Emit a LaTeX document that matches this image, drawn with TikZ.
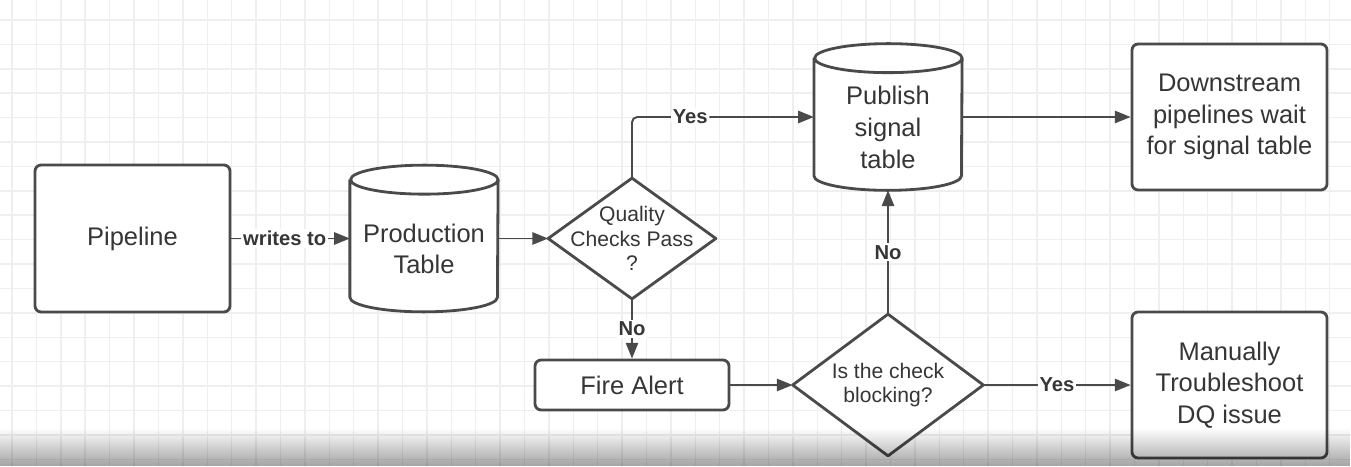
\documentclass[tikz,border=0pt]{standalone}
\usepackage{fontspec}
\setmainfont{Liberation Sans}
\usepackage{xcolor}
\usepackage{tikz}
\usetikzlibrary{arrows.meta,fadings}
\definecolor{DQLine}{HTML}{4A4A4A}
\definecolor{DQText}{HTML}{363636}
\definecolor{DQGrid}{HTML}{EFEFEF}
\pgfdeclarelayer{paper}
\pgfdeclarelayer{behind}
\pgfsetlayers{paper,behind,main}
\tikzfading[name=screenfade, top color=transparent!100, bottom color=transparent!0]
\newcommand{\lidgap}{\rule{0pt}{0.78cm}}
\tikzset{
  shapeline/.style={draw=DQLine,fill=white,line width=1.6pt,line join=round},
  mainfont/.style={font=\fontsize{14.5}{18}\selectfont,text=DQText,align=center},
  procbox/.style={shapeline,mainfont,rounded corners=3.5pt,inner sep=0pt},
  tablebox/.style={mainfont,inner sep=0pt,minimum width=2.95cm,minimum height=2.92cm},
  checkbox/.style={font=\fontsize{12}{14}\selectfont,text=DQText,align=center,inner sep=0pt},
  flow/.style={draw=DQLine,line width=1.1pt,-{Triangle[length=9pt,width=7pt]}},
  edgelabel/.style={font=\fontsize{11.5}{13}\selectfont\bfseries,text=DQText,fill=white,inner sep=1pt}
}

\begin{document}
\begin{tikzpicture}[x=1cm,y=1cm]
\useasboundingbox (0,0) rectangle (27.02,9.32);
\begin{pgfonlayer}{paper}
\fill[white] (0,0) rectangle (27.02,9.32);
\foreach \i in {0,...,55} \draw[DQGrid,line width=0.8pt] (0.24+\i*0.488,0) -- (0.24+\i*0.488,9.32);
\foreach \j in {0,...,18} \draw[DQGrid,line width=0.8pt] (0,8.92-\j*0.488) -- (27.02,8.92-\j*0.488);
\end{pgfonlayer}

\node[procbox,minimum width=3.90cm,minimum height=2.94cm] (pipeline) at (2.65,4.55) {Pipeline};
\node[tablebox] (prodtable) at (8.48,4.55) {\lidgap Production\\Table};
\node[checkbox,minimum width=3.34cm,minimum height=2.40cm] (qualitycheck) at (12.64,4.55) {Quality\\Checks Pass\\?};
\node[tablebox] (signaltable) at (17.76,6.98) {\lidgap Publish\\signal\\table};
\node[procbox,minimum width=3.90cm,minimum height=2.92cm] (downstream) at (24.59,6.98) {Downstream\\pipelines wait\\for signal table};
\node[procbox,minimum width=3.88cm,minimum height=1.00cm] (firealert) at (12.64,1.62) {Fire Alert};
\node[checkbox,minimum width=3.80cm,minimum height=2.82cm] (blockcheck) at (17.76,1.62) {Is the check\\blocking?};
\node[procbox,minimum width=3.90cm,minimum height=2.92cm] (manual) at (24.59,1.62) {Manually\\Troubleshoot\\DQ issue};

\begin{pgfonlayer}{behind}
\foreach \n in {prodtable,signaltable}
  \draw[shapeline] ([yshift=-0.29cm]\n.north west) -- ([yshift=0.29cm]\n.south west)
    arc[start angle=180,end angle=360,x radius=1.475cm,y radius=0.29cm]
    -- ([yshift=-0.29cm]\n.north east)
    arc[start angle=0,end angle=360,x radius=1.475cm,y radius=0.29cm];
\foreach \n in {qualitycheck,blockcheck}
  \draw[shapeline] (\n.north) -- (\n.east) -- (\n.south) -- (\n.west) -- cycle;
\end{pgfonlayer}

\draw[flow] (pipeline.east) -- node[edgelabel,pos=0.45] {writes to} (prodtable.west);
\draw[flow] (prodtable.east) -- (qualitycheck.west);
\draw[flow,rounded corners=3pt] (qualitycheck.north) |- node[edgelabel,pos=0.66] {Yes} (signaltable.west);
\draw[flow] (signaltable.east) -- (downstream.west);
\draw[flow] (qualitycheck.south) -- node[edgelabel] {No} (firealert.north);
\draw[flow] (firealert.east) -- (blockcheck.west);
\draw[flow] (blockcheck.north) -- node[edgelabel] {No} (signaltable.south);
\draw[flow] (blockcheck.east) -- node[edgelabel] {Yes} (manual.west);

\fill[black,fill opacity=0.36,path fading=screenfade] (0,0) rectangle (27.02,0.76);
\end{tikzpicture}
\end{document}
